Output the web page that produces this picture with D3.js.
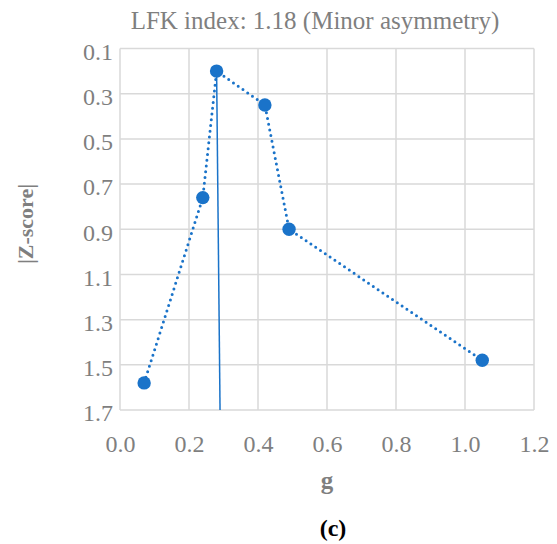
<!DOCTYPE html>
<html>
<head>
<meta charset="utf-8">
<script src="https://cdn.jsdelivr.net/npm/d3@7"></script>
<style>
  html, body { margin: 0; padding: 0; background: #fff; }
  svg { display: block; }
  text { font-family: "Palatino Linotype", "Book Antiqua", Palatino, "Liberation Serif", serif; }
</style>
</head>
<body>
<svg id="chart" width="557" height="544"></svg>
<script>
// Data
const gValues = [0.07, 0.24, 0.28, 0.42, 0.49, 1.05];
const zValues = [1.58, 0.76, 0.20, 0.35, 0.90, 1.48];
const refLineG = [0.28, 0.29];
const refLineZ = [0.20, 1.70];
const xTicks = [0.0, 0.2, 0.4, 0.6, 0.8, 1.0, 1.2];
const yTicks = [0.1, 0.3, 0.5, 0.7, 0.9, 1.1, 1.3, 1.5, 1.7];
const titleText = "LFK index: 1.18 (Minor asymmetry)";
const xTitle = "g";
const yTitle = "|Z-score|";
const panelLabel = "(c)";

const svg = d3.select("#chart");
const mLeft = 120, mRight = 534, mTop = 48.5, mBottom = 410;
const fontStack = '"Palatino Linotype", "Book Antiqua", Palatino, "Liberation Serif", serif';

const x = d3.scaleLinear().domain([0, 1.2]).range([mLeft, mRight]);
const y = d3.scaleLinear().domain([0.1, 1.7]).range([mTop, mBottom]);

const gridColor = "#d9d9d9";
const labelColor = "#7f7f7f";
const blue = "#1a73c9";

// gridlines
svg.append("g").selectAll("line").data(xTicks).join("line")
  .attr("x1", d => x(d)).attr("x2", d => x(d))
  .attr("y1", mTop).attr("y2", mBottom)
  .attr("stroke", gridColor).attr("stroke-width", 1.5);
svg.append("g").selectAll("line").data(yTicks).join("line")
  .attr("x1", mLeft).attr("x2", mRight)
  .attr("y1", d => y(d)).attr("y2", d => y(d))
  .attr("stroke", gridColor).attr("stroke-width", 1.5);

// axes (labels only)
const xAxis = d3.axisBottom(x).tickValues(xTicks).tickFormat(d3.format(".1f")).tickSize(0).tickPadding(0);
const gx = svg.append("g").attr("transform", `translate(0,${mBottom})`).call(xAxis);
gx.select(".domain").remove();
gx.selectAll("text").attr("fill", labelColor).attr("font-size", 24)
  .attr("dy", null).attr("y", 42).style("font-family", fontStack);

const yAxis = d3.axisLeft(y).tickValues(yTicks).tickFormat(d3.format(".1f")).tickSize(0).tickPadding(0);
const gy = svg.append("g").attr("transform", `translate(${mLeft},0)`).call(yAxis);
gy.select(".domain").remove();
gy.selectAll("text").attr("fill", labelColor).attr("font-size", 24)
  .attr("x", -7).attr("dy", "0.45em").style("font-family", fontStack);

// reference line
svg.append("line")
  .attr("x1", x(refLineG[0])).attr("y1", y(refLineZ[0]))
  .attr("x2", x(refLineG[1])).attr("y2", y(refLineZ[1]))
  .attr("stroke", blue).attr("stroke-width", 1.5);

// dotted connecting line
const pts = gValues.map((g, i) => [g, zValues[i]]);
svg.append("path")
  .datum(pts)
  .attr("d", d3.line().x(d => x(d[0])).y(d => y(d[1])))
  .attr("fill", "none").attr("stroke", blue).attr("stroke-width", 3)
  .attr("stroke-dasharray", "0 5.8").attr("stroke-linecap", "round");

// markers
svg.append("g").selectAll("circle").data(pts).join("circle")
  .attr("cx", d => x(d[0])).attr("cy", d => y(d[1])).attr("r", 6.7)
  .attr("fill", blue);

// titles
svg.append("text").attr("x", 315).attr("y", 29).attr("text-anchor", "middle")
  .attr("fill", labelColor).attr("font-size", 25).text(titleText);
svg.append("text").attr("x", 327).attr("y", 489).attr("text-anchor", "middle")
  .attr("fill", labelColor).attr("font-size", 25).attr("font-weight", "bold").text(xTitle);
svg.append("text").attr("transform", "translate(33,224) rotate(-90)").attr("text-anchor", "middle")
  .attr("fill", labelColor).attr("font-size", 22).attr("font-weight", "bold").text(yTitle);
svg.append("text").attr("x", 333).attr("y", 536).attr("text-anchor", "middle")
  .attr("fill", "#000").attr("font-size", 24).attr("font-weight", "bold").text(panelLabel);
</script>
</body>
</html>
